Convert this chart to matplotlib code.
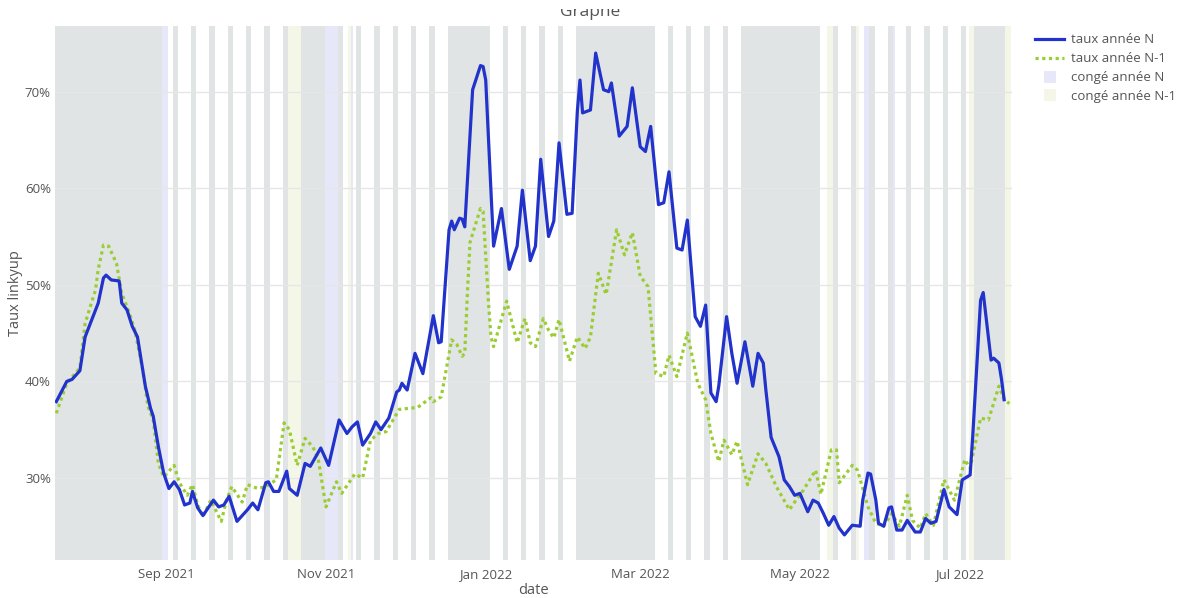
import numpy as np
import pandas as pd
import matplotlib
matplotlib.use("Agg")
import matplotlib.pyplot as plt
from matplotlib.lines import Line2D
from matplotlib.patches import Rectangle

plt.rcParams['font.family'] = ['Open Sans', 'DejaVu Sans']

# taux annee N (vertex dates / values in %)
dates_n = ["2021-07-21", "2021-07-25", "2021-07-27", "2021-07-30", "2021-08-01", "2021-08-05",
           "2021-08-06", "2021-08-08", "2021-08-09", "2021-08-11", "2021-08-14", "2021-08-15",
           "2021-08-17", "2021-08-19", "2021-08-21", "2021-08-24", "2021-08-26", "2021-08-27",
           "2021-08-29", "2021-08-31", "2021-09-02", "2021-09-04", "2021-09-06", "2021-09-08",
           "2021-09-10", "2021-09-11", "2021-09-13", "2021-09-15", "2021-09-19", "2021-09-21",
           "2021-09-23", "2021-09-25", "2021-09-28", "2021-10-02", "2021-10-04", "2021-10-06",
           "2021-10-09", "2021-10-10", "2021-10-12", "2021-10-14", "2021-10-17", "2021-10-18",
           "2021-10-21", "2021-10-24", "2021-10-26", "2021-10-30", "2021-11-02", "2021-11-06",
           "2021-11-09", "2021-11-11", "2021-11-13", "2021-11-15", "2021-11-18", "2021-11-20",
           "2021-11-22", "2021-11-25", "2021-11-28", "2021-11-29", "2021-11-30", "2021-12-02",
           "2021-12-05", "2021-12-08", "2021-12-12", "2021-12-14", "2021-12-15", "2021-12-18",
           "2021-12-19", "2021-12-20", "2021-12-22", "2021-12-23", "2021-12-24", "2021-12-27",
           "2021-12-30", "2021-12-31", "2022-01-01", "2022-01-04", "2022-01-07", "2022-01-10",
           "2022-01-13", "2022-01-15", "2022-01-18", "2022-01-20", "2022-01-22", "2022-01-25",
           "2022-01-27", "2022-01-29", "2022-02-01", "2022-02-03", "2022-02-05", "2022-02-06",
           "2022-02-07", "2022-02-10", "2022-02-12", "2022-02-15", "2022-02-17", "2022-02-18",
           "2022-02-21", "2022-02-24", "2022-02-26", "2022-03-01", "2022-03-03", "2022-03-05",
           "2022-03-08", "2022-03-10", "2022-03-12", "2022-03-15", "2022-03-17", "2022-03-19",
           "2022-03-22", "2022-03-24", "2022-03-26", "2022-03-28", "2022-03-30", "2022-03-31",
           "2022-04-03", "2022-04-05", "2022-04-07", "2022-04-10", "2022-04-13", "2022-04-15",
           "2022-04-17", "2022-04-18", "2022-04-20", "2022-04-23", "2022-04-25", "2022-04-27",
           "2022-04-29", "2022-05-01", "2022-05-04", "2022-05-06", "2022-05-08", "2022-05-10",
           "2022-05-12", "2022-05-14", "2022-05-16", "2022-05-18", "2022-05-21", "2022-05-24",
           "2022-05-25", "2022-05-27", "2022-05-28", "2022-05-30", "2022-05-31", "2022-06-02",
           "2022-06-04", "2022-06-05", "2022-06-07", "2022-06-09", "2022-06-11", "2022-06-14",
           "2022-06-16", "2022-06-18", "2022-06-20", "2022-06-22", "2022-06-25", "2022-06-27",
           "2022-06-30", "2022-07-02", "2022-07-05", "2022-07-06", "2022-07-09", "2022-07-10",
           "2022-07-13", "2022-07-14", "2022-07-16", "2022-07-17", "2022-07-18"]
taux_n = [37.9, 40.0, 40.2, 41.1, 44.6, 47.4,
          48.1, 50.7, 51.0, 50.5, 50.4, 48.1,
          47.4, 45.7, 44.6, 39.5, 37.2, 36.4,
          33.2, 30.5, 28.9, 29.6, 28.8, 27.2,
          27.4, 28.6, 26.9, 26.1, 27.7, 27.0,
          27.2, 28.1, 25.5, 26.7, 27.4, 26.7,
          29.5, 29.6, 28.6, 28.6, 30.7, 28.9,
          28.2, 31.5, 31.2, 33.1, 31.3, 36.0,
          34.6, 35.3, 35.8, 33.4, 34.6, 35.8,
          35.0, 36.2, 38.9, 39.1, 39.8, 39.1,
          42.9, 40.8, 46.8, 44.0, 44.1, 55.7,
          56.6, 55.7, 56.9, 56.8, 56.0, 70.2,
          72.7, 72.6, 71.2, 54.0, 57.9, 51.6,
          54.0, 59.8, 52.5, 54.0, 63.0, 55.0,
          56.6, 64.7, 57.3, 57.4, 68.0, 71.2,
          67.8, 68.1, 74.0, 70.2, 70.0, 70.9,
          65.4, 66.4, 70.4, 64.3, 63.8, 66.4,
          58.3, 58.5, 61.7, 53.8, 53.6, 56.7,
          46.7, 45.7, 47.9, 38.8, 37.9, 39.5,
          46.7, 42.9, 39.8, 44.1, 39.5, 42.9,
          41.9, 39.1, 34.2, 32.2, 29.8, 29.1,
          28.2, 28.4, 26.5, 27.7, 27.4, 26.3,
          25.1, 26.0, 24.8, 24.1, 25.1, 25.0,
          27.7, 30.5, 30.4, 27.7, 25.3, 25.0,
          26.9, 27.0, 24.6, 24.6, 25.6, 24.4,
          24.4, 25.8, 25.3, 25.5, 28.8, 27.0,
          26.2, 29.8, 30.3, 34.3, 48.4, 49.2,
          42.2, 42.4, 41.9, 40.2, 38.1]

# taux annee N-1
dates_n1 = ["2021-07-21", "2021-07-25", "2021-07-30", "2021-08-01", "2021-08-05", "2021-08-06",
            "2021-08-08", "2021-08-10", "2021-08-13", "2021-08-15", "2021-08-18", "2021-08-20",
            "2021-08-23", "2021-08-25", "2021-08-27", "2021-08-29", "2021-08-31", "2021-09-04",
            "2021-09-06", "2021-09-09", "2021-09-11", "2021-09-13", "2021-09-15", "2021-09-18",
            "2021-09-22", "2021-09-24", "2021-09-26", "2021-09-30", "2021-10-02", "2021-10-06",
            "2021-10-09", "2021-10-13", "2021-10-16", "2021-10-18", "2021-10-21", "2021-10-24",
            "2021-10-27", "2021-10-29", "2021-11-01", "2021-11-05", "2021-11-07", "2021-11-12",
            "2021-11-15", "2021-11-18", "2021-11-21", "2021-11-24", "2021-11-29", "2021-12-06",
            "2021-12-11", "2021-12-12", "2021-12-15", "2021-12-19", "2021-12-21", "2021-12-23",
            "2021-12-24", "2021-12-25", "2021-12-26", "2021-12-30", "2021-12-31", "2022-01-02",
            "2022-01-03", "2022-01-04", "2022-01-09", "2022-01-13", "2022-01-16", "2022-01-18",
            "2022-01-20", "2022-01-23", "2022-01-25", "2022-01-27", "2022-01-29", "2022-02-02",
            "2022-02-05", "2022-02-08", "2022-02-10", "2022-02-13", "2022-02-16", "2022-02-20",
            "2022-02-23", "2022-02-26", "2022-03-01", "2022-03-04", "2022-03-07", "2022-03-10",
            "2022-03-12", "2022-03-15", "2022-03-19", "2022-03-23", "2022-03-26", "2022-03-28",
            "2022-03-31", "2022-04-02", "2022-04-05", "2022-04-07", "2022-04-11", "2022-04-15",
            "2022-04-18", "2022-04-22", "2022-04-27", "2022-04-30", "2022-05-02", "2022-05-07",
            "2022-05-09", "2022-05-13", "2022-05-15", "2022-05-16", "2022-05-21", "2022-05-23",
            "2022-05-27", "2022-05-30", "2022-06-02", "2022-06-05", "2022-06-08", "2022-06-11",
            "2022-06-13", "2022-06-16", "2022-06-18", "2022-06-21", "2022-06-25", "2022-06-29",
            "2022-07-03", "2022-07-05", "2022-07-09", "2022-07-12", "2022-07-16", "2022-07-18",
            "2022-07-20"]
taux_n1 = [36.7, 39.8, 41.4, 46.0, 49.5, 51.6,
           54.1, 54.0, 52.2, 49.1, 47.0, 45.3,
           41.2, 37.4, 36.0, 31.5, 30.1, 31.3,
           29.5, 28.2, 29.3, 27.2, 26.0, 27.7,
           25.5, 27.7, 29.1, 27.5, 29.3, 28.9,
           29.1, 29.8, 35.7, 35.0, 31.3, 34.1,
           33.2, 32.0, 27.0, 29.6, 28.4, 30.4,
           30.0, 33.9, 34.6, 34.8, 37.1, 37.3,
           38.3, 37.9, 38.4, 44.3, 43.8, 42.6,
           42.9, 49.1, 54.4, 57.9, 57.6, 48.4,
           44.6, 43.6, 48.3, 44.0, 46.5, 44.0,
           43.6, 46.5, 45.3, 44.5, 46.4, 42.1,
           44.6, 43.4, 44.6, 51.2, 49.0, 55.7,
           53.1, 55.4, 50.9, 49.8, 40.8, 40.5,
           42.7, 40.5, 45.0, 39.8, 38.1, 34.6,
           31.7, 33.9, 32.4, 33.8, 29.3, 32.5,
           31.5, 29.1, 26.7, 27.9, 28.6, 30.8,
           28.3, 32.9, 32.9, 29.5, 31.3, 30.8,
           27.0, 25.3, 25.0, 26.3, 25.0, 28.2,
           25.6, 24.8, 26.3, 25.1, 29.8, 27.7,
           31.9, 31.0, 36.2, 36.0, 39.5, 38.1,
           37.7]

# periodes de conge (premier jour, dernier jour), hors week-ends
conges_n = [("2021-07-06", "2021-09-01"), ("2021-10-23", "2021-11-07"), ("2021-11-11", "2021-11-11"),
            ("2021-12-18", "2022-01-02"), ("2022-02-05", "2022-03-06"), ("2022-04-09", "2022-05-08"),
            ("2022-05-26", "2022-05-27"), ("2022-06-06", "2022-06-06"), ("2022-07-07", "2022-07-18")]
conges_n1 = [("2021-07-05", "2021-08-30"), ("2021-10-16", "2021-10-31"), ("2021-11-10", "2021-11-10"),
             ("2021-12-18", "2022-01-02"), ("2022-02-05", "2022-03-06"), ("2022-04-09", "2022-05-08"),
             ("2022-05-12", "2022-05-13"), ("2022-05-23", "2022-05-23"), ("2022-07-05", "2022-07-20")]

COL_N = "#2233cc"
COL_N1 = "#9acd32"


def jours_conges(periodes, fin):
    jours = set()
    for a, b in periodes:
        jours.update(pd.date_range(a, b, freq="D"))
    we = pd.date_range("2021-07-19", fin, freq="D")
    jours.update([d for d in we if d.weekday() >= 5])
    jours = sorted(jours)
    # regroupe les jours consecutifs
    runs = []
    start = prev = jours[0]
    for d in jours[1:]:
        if (d - prev).days > 1:
            runs.append((start, prev))
            start = d
        prev = d
    runs.append((start, prev))
    return runs


fig = plt.figure(figsize=(11.82, 5.98), dpi=100)
ax = fig.add_axes([55 / 1182, 1 - 560 / 598, (1012 - 55) / 1182, (560 - 26) / 598])

half = pd.Timedelta(hours=12)
for a, b in jours_conges(conges_n, "2022-07-18"):
    ax.axvspan(a - half, b + half, color="#5866de", alpha=0.15, lw=0, zorder=0.1)
for a, b in jours_conges(conges_n1, "2022-07-20"):
    ax.axvspan(a - half, b + half, color="#c8d78c", alpha=0.2, lw=0, zorder=0.15)

ax.plot(pd.to_datetime(dates_n), taux_n, color=COL_N, lw=2.3, zorder=3,
        solid_joinstyle="round", label="taux année N")
ax.plot(pd.to_datetime(dates_n1), taux_n1, color=COL_N1, lw=2.3, zorder=2,
        linestyle=(0, (1, 1.1)), label="taux année N-1")

ax.set_xlim(pd.Timestamp("2021-07-20 12:00"), pd.Timestamp("2022-07-21"))
ax.set_ylim(21.5, 76.8)

ax.set_yticks([30, 40, 50, 60, 70])
ax.set_yticklabels(["30%", "40%", "50%", "60%", "70%"])
xt = pd.to_datetime(["2021-09-01", "2021-11-01", "2022-01-01", "2022-03-01", "2022-05-01", "2022-07-01"])
ax.set_xticks(xt)
ax.set_xticklabels(["Sep 2021", "Nov 2021", "Jan 2022", "Mar 2022", "May 2022", "Jul 2022"])
ax.tick_params(length=0, labelsize=9.5, labelcolor="#555555", pad=6)
ax.tick_params(axis="y", pad=3)
ax.grid(axis="y", color="#e6e6e6", lw=1)
ax.set_axisbelow(True)
for s in ax.spines.values():
    s.set_visible(False)

ax.set_xlabel("date", fontsize=10.5, color="#555555", labelpad=1)
ax.set_ylabel("Taux linkyup", fontsize=10.5, color="#555555", labelpad=1)

handles = [
    Line2D([], [], color=COL_N, lw=2.3),
    Line2D([], [], color=COL_N1, lw=2.3, linestyle=(0, (1, 1.1))),
    Line2D([], [], ls="none", marker="s", markersize=9, markerfacecolor="#e6e8fa", markeredgewidth=0),
    Line2D([], [], ls="none", marker="s", markersize=9, markerfacecolor="#f4f7e8", markeredgewidth=0),
]
labels = ["taux année N", "taux année N-1", "congé année N", "congé année N-1"]
leg = fig.legend(handles, labels, loc="upper left", bbox_to_anchor=(1030 / 1182, 1 - 28 / 598),
                 frameon=False, fontsize=9.5, handlelength=2.2, labelspacing=0.45, handletextpad=0.5,
                 borderaxespad=0)
for t in leg.get_texts():
    t.set_color("#555555")

# titre, dont le haut est coupe dans la capture
fig.text(590 / 1182, 1 - 16 / 598, "Graphe", ha="center", va="baseline",
         fontsize=12.5, color="#555555", zorder=3)
fig.add_artist(Rectangle((0, 1 - 9 / 598), 1, 9 / 598, transform=fig.transFigure,
                         facecolor="white", edgecolor="none", zorder=10))

fig.savefig("out.png", dpi=100)
